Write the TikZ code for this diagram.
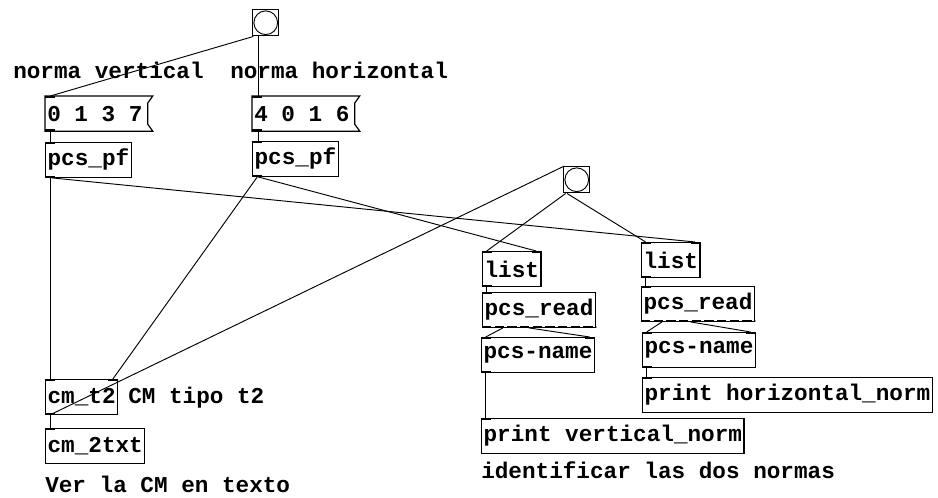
\documentclass[tikz,border=0pt]{standalone}
\usepackage{fontspec}
\setmonofont{Liberation Mono}
\newcommand{\pdfont}{\ttfamily\bfseries\fontsize{17}{20}\selectfont}
\tikzstyle{pd-base}=[rectangle,
                     anchor=north west,
                     inner xsep=1.5pt,
                     inner ysep=0pt,
                     minimum height=26pt,
                     font=\pdfont
                    ]
\tikzstyle{object}=[pd-base, draw=black, line width=0.9pt]
\tikzstyle{message}=[pd-base, inner xsep=1.5pt]
\tikzstyle{flag}=[draw=black, line width=0.9pt]
\tikzstyle{bang}=[rectangle, draw=black, line width=1.1pt, anchor=north west,
                  minimum size=19.5pt, inner sep=0pt]
\tikzstyle{comment}=[anchor=base west, inner sep=0pt, font=\pdfont]
\tikzstyle{port}=[line width=1.6pt]
\tikzstyle{wire}=[line width=0.7pt]

\begin{document}
\begin{tikzpicture}[x=0.75pt, y=-0.75pt]
\useasboundingbox (0,0) rectangle (938,497);

\node at (252,   9) (bangA)  [bang]     {};
\node at ( 13,  78) (txtV)   [comment]  {norma vertical};
\node at (230,  78) (txtH)   [comment]  {norma horizontal};
\node at ( 45,  96) (msgV)   [message]  {0 1 3 7};
\node at (252,  96) (msgH)   [message]  {4 0 1 6};
\node at ( 45, 142) (pfV)    [object]   {pcs\_pf};
\node at (252, 141) (pfH)    [object]   {pcs\_pf};
\node at (563, 166) (bangB)  [bang]     {};
\node at (482, 251) (listV)  [object]   {list};
\node at (641, 242) (listH)  [object]   {list};
\node at (482, 292) (readV)  [object]   {pcs\_read};
\node at (641, 286) (readH)  [object]   {pcs\_read};
\node at (481, 337) (nameV)  [object]   {pcs-name};
\node at (642, 332) (nameH)  [object]   {pcs-name};
\node at (642, 377) (printH) [object]   {print horizontal\_norm};
\node at (481, 418) (printV) [object]   {print vertical\_norm};
\node at (481, 478) (txtN)   [comment]  {identificar las dos normas};
\node at ( 45, 379) (cmt)    [object]   {cm\_t2};
\node at (128, 403) (txtT)   [comment]  {CM tipo t2};
\node at ( 45, 428) (cmtxt)  [object]   {cm\_2txt};
\node at ( 45, 492) (txtC)   [comment]  {Ver la CM en texto};

% bang circles and message flags
\foreach \b in {bangA, bangB}
  \draw[line width=0.7pt] (\b.center) circle [radius=8.9pt];
\foreach \m in {msgV, msgH}
  \draw[flag] (\m.south west) -- (\m.north west) -- ([xshift=6pt]\m.north east)
    -- ([xshift=2.25pt, yshift=-5.25pt]\m.north east)
    -- ([xshift=2.25pt, yshift=5.25pt]\m.south east)
    -- ([xshift=6pt]\m.south east) -- cycle;

% inlets and outlets
\foreach \n in {msgV, msgH, pfV, pfH, listV, listH, readV, readH, nameV, nameH, printV, printH, cmt, cmtxt}
  \draw[port] ([yshift=-0.6pt]\n.north west) -- ++(10,0);
\foreach \n in {msgV, msgH, pfV, pfH, listV, listH, nameV, nameH, cmt}
  \draw[port] ([yshift=0.6pt]\n.south west) -- ++(10,0);
\foreach \n in {listV, listH, nameV, nameH, cmt}
  \draw[port] ([yshift=-0.6pt]\n.north east) -- ++(-10,0);
\foreach \n in {readV, readH}
  \draw[port, dash pattern=on 7pt off 2.5pt] ([yshift=0.6pt]\n.south west) -- ([yshift=0.6pt]\n.south east);

% connections
\draw[wire] ([xshift=1pt]bangA.south west) -- ([xshift=4pt]msgV.north west);
\draw[wire] ([xshift=4.5pt]bangA.south west) -- ([xshift=4.5pt]msgH.north west);
\draw[wire] ([xshift=3.75pt]msgV.south west) -- ([xshift=3.75pt]pfV.north west);
\draw[wire] ([xshift=4.5pt]msgH.south west) -- ([xshift=4.5pt]pfH.north west);
\draw[wire] ([xshift=3.75pt]pfV.south west) -- ([xshift=3.75pt]cmt.north west);
\draw[wire] ([xshift=5pt]pfV.south west) -- ([xshift=-4pt]listH.north east);
\draw[wire] ([xshift=4.5pt]pfH.south west) -- ([xshift=-4pt]listV.north east);
\draw[wire] ([xshift=4pt]pfH.south west) -- ([xshift=-4pt]cmt.north east);
\draw[wire] ([xshift=3.75pt]cmt.south west) -- ([xshift=1pt]bangB.north west);
\draw[wire] ([xshift=3.75pt]cmt.south west) -- ([xshift=3.75pt]cmtxt.north west);
\draw[wire] ([xshift=2pt]bangB.south west) -- ([xshift=3.5pt]listV.north west);
\draw[wire] ([xshift=3pt]bangB.south west) -- ([xshift=3.5pt]listH.north west);
\draw[wire] ([xshift=3.5pt]listV.south west) -- ([xshift=3.5pt]readV.north west);
\draw[wire] ([xshift=3.5pt]listH.south west) -- ([xshift=3.5pt]readH.north west);
\draw[wire] ([xshift=15.75pt]readV.south west) -- ([xshift=3.5pt]nameV.north west);
\draw[wire] ([xshift=35pt]readV.south west) -- ([xshift=-4pt]nameV.north east);
\draw[wire] ([xshift=15.75pt]readH.south west) -- ([xshift=3.5pt]nameH.north west);
\draw[wire] ([xshift=37pt]readH.south west) -- ([xshift=-4pt]nameH.north east);
\draw[wire] ([xshift=3.5pt]nameV.south west) -- ([xshift=3.5pt]printV.north west);
\draw[wire] ([xshift=3.5pt]nameH.south west) -- ([xshift=3.5pt]printH.north west);
\end{tikzpicture}
\end{document}
